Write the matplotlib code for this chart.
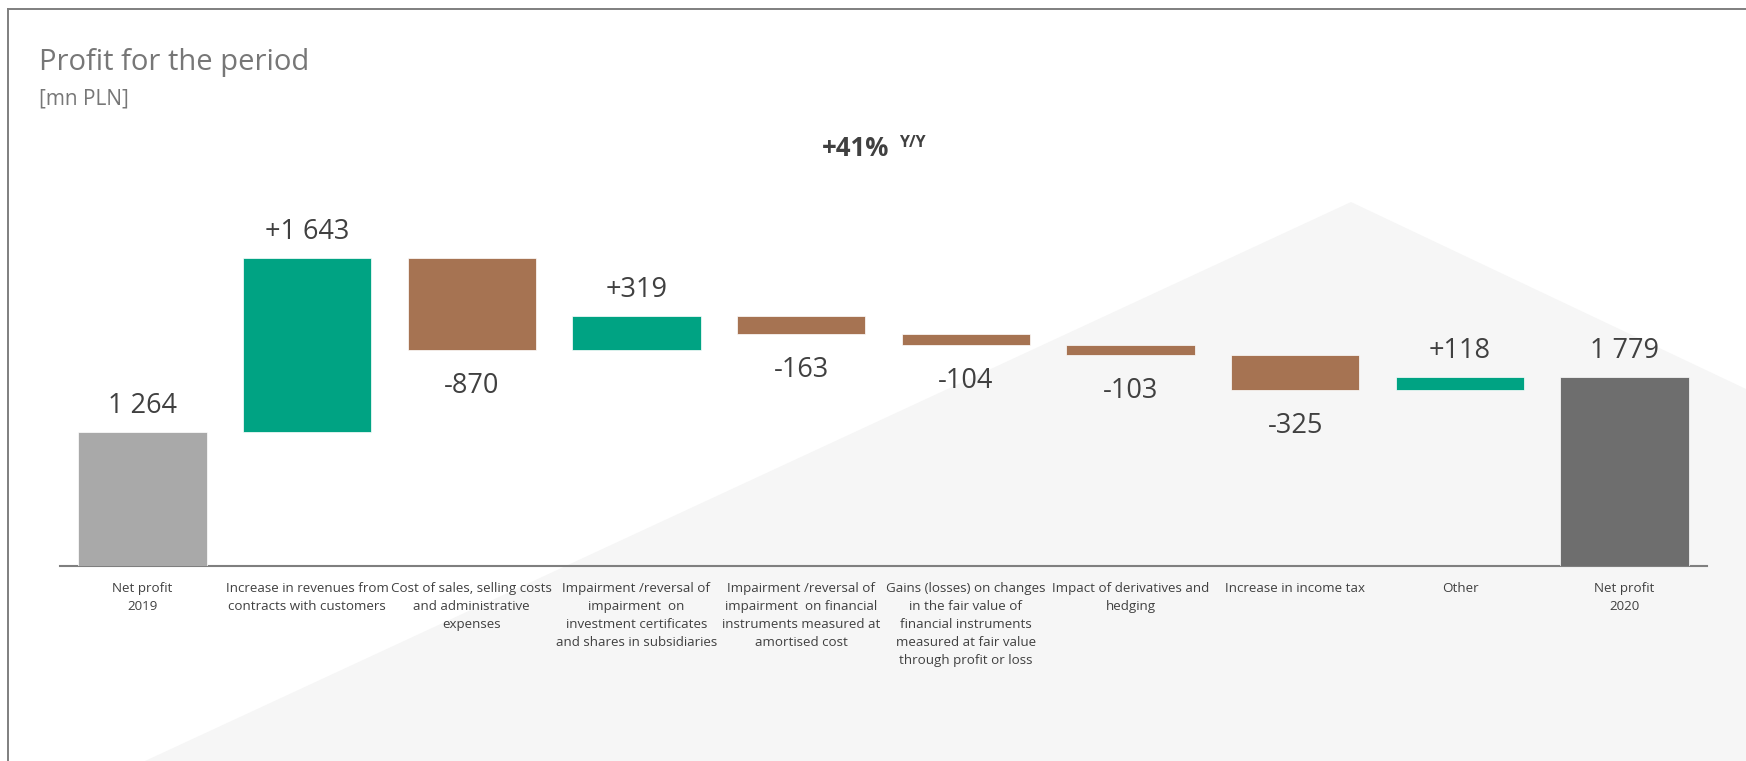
import matplotlib
matplotlib.use("Agg")
import matplotlib.pyplot as plt
from matplotlib.patches import Polygon
from matplotlib.lines import Line2D

plt.rcParams['font.family'] = ['Open Sans', 'DejaVu Sans']

# --- data (mn PLN) ---
categories = [
    "Net profit\n2019",
    "Increase in revenues from\ncontracts with customers",
    "Cost of sales, selling costs\nand administrative\nexpenses",
    "Impairment /reversal of\nimpairment  on\ninvestment certificates\nand shares in subsidiaries",
    "Impairment /reversal of\nimpairment  on financial\ninstruments measured at\namortised cost",
    "Gains (losses) on changes\nin the fair value of\nfinancial instruments\nmeasured at fair value\nthrough profit or loss",
    "Impact of derivatives and\nhedging",
    "Increase in income tax",
    "Other",
    "Net profit\n2020",
]
values = [1264, 1643, -870, 319, -163, -104, -103, -325, 118, 1779]
is_total = [True, False, False, False, False, False, False, False, False, True]

GREEN = "#00a383"
BROWN = "#a67352"
TOTAL_COLORS = ["#a9a9a9", "#6e6e6e"]
TEXT = "#404040"

W, H = 1746, 761
fig = plt.figure(figsize=(W / 100, H / 100), dpi=100)
fig.patch.set_facecolor("white")

# background "roof" shape
roof = Polygon([(145 / W, 0), (1351 / W, 1 - 202 / H), (1, 1 - 389 / H), (1, 0)],
               closed=True, transform=fig.transFigure, facecolor="#f6f6f6",
               edgecolor="none", zorder=-1)
fig.add_artist(roof)

# frame lines (top and left)
fig.add_artist(Line2D([8 / W, 1], [1 - 8.5 / H, 1 - 8.5 / H], color="#7f7f7f", lw=1.4))
fig.add_artist(Line2D([8 / W, 8 / W], [0, 1 - 8.5 / H], color="#7f7f7f", lw=1.4))

# titles
fig.text(39 / W, 1 - 70 / H, "Profit for the period", fontsize=21, color="#777777",
         va="baseline", ha="left")
fig.text(39 / W, 1 - 105 / H, "[mn PLN]", fontsize=15, color="#777777",
         va="baseline", ha="left")
fig.text(822 / W, 1 - 156 / H, "+41%", fontsize=18.5, fontweight="bold", color=TEXT,
         va="baseline", ha="left")
fig.text(899 / W, 1 - 147 / H, "Y/Y", fontsize=11.5, fontweight="bold", color=TEXT,
         va="baseline", ha="left")

# chart area
px_per_unit = 0.106
ax_h = 366
ax = fig.add_axes([60 / W, 195 / H, 1647 / W, ax_h / H])
ax.set_zorder(1)
ax.set_facecolor("none")
ax.set_xlim(-0.5, 9.5)
ax.set_ylim(0, ax_h / px_per_unit)
for s in ["top", "left", "right"]:
    ax.spines[s].set_visible(False)
ax.spines["bottom"].set_color("#7f7f7f")
ax.spines["bottom"].set_linewidth(1.5)
ax.set_xticks([])
ax.set_yticks([])

running = 0
total_idx = 0
for i, (v, tot) in enumerate(zip(values, is_total)):
    if tot:
        bottom, height = 0, v
        color = TOTAL_COLORS[total_idx]
        total_idx += 1
        running = v
        label = f"{v:,}".replace(",", " ")
    else:
        bottom = running if v > 0 else running + v
        height = abs(v)
        color = GREEN if v > 0 else BROWN
        running += v
        sign = "+" if v > 0 else "-"
        label = sign + f"{abs(v):,}".replace(",", " ")
    ax.bar(i, height, bottom=bottom, width=0.78, color=color,
           edgecolor="white", linewidth=0.5, zorder=3)
    if tot or v > 0:
        ax.annotate(label, (i, bottom + height), xytext=(0, 19),
                    textcoords="offset pixels", ha="center", va="baseline",
                    fontsize=19.5, color=TEXT)
    else:
        ax.annotate(label, (i, bottom), xytext=(0, -43),
                    textcoords="offset pixels", ha="center", va="baseline",
                    fontsize=19.5, color=TEXT)

# category labels under the axis
lab_y = (H - 582 - 195) / ax_h
for i, c in enumerate(categories):
    ax.text(i, lab_y, c, transform=ax.get_xaxis_transform(), ha="center", va="top",
            fontsize=9.6, color="#404040", linespacing=1.5, multialignment="center")

fig.savefig("out.png", dpi=100)
